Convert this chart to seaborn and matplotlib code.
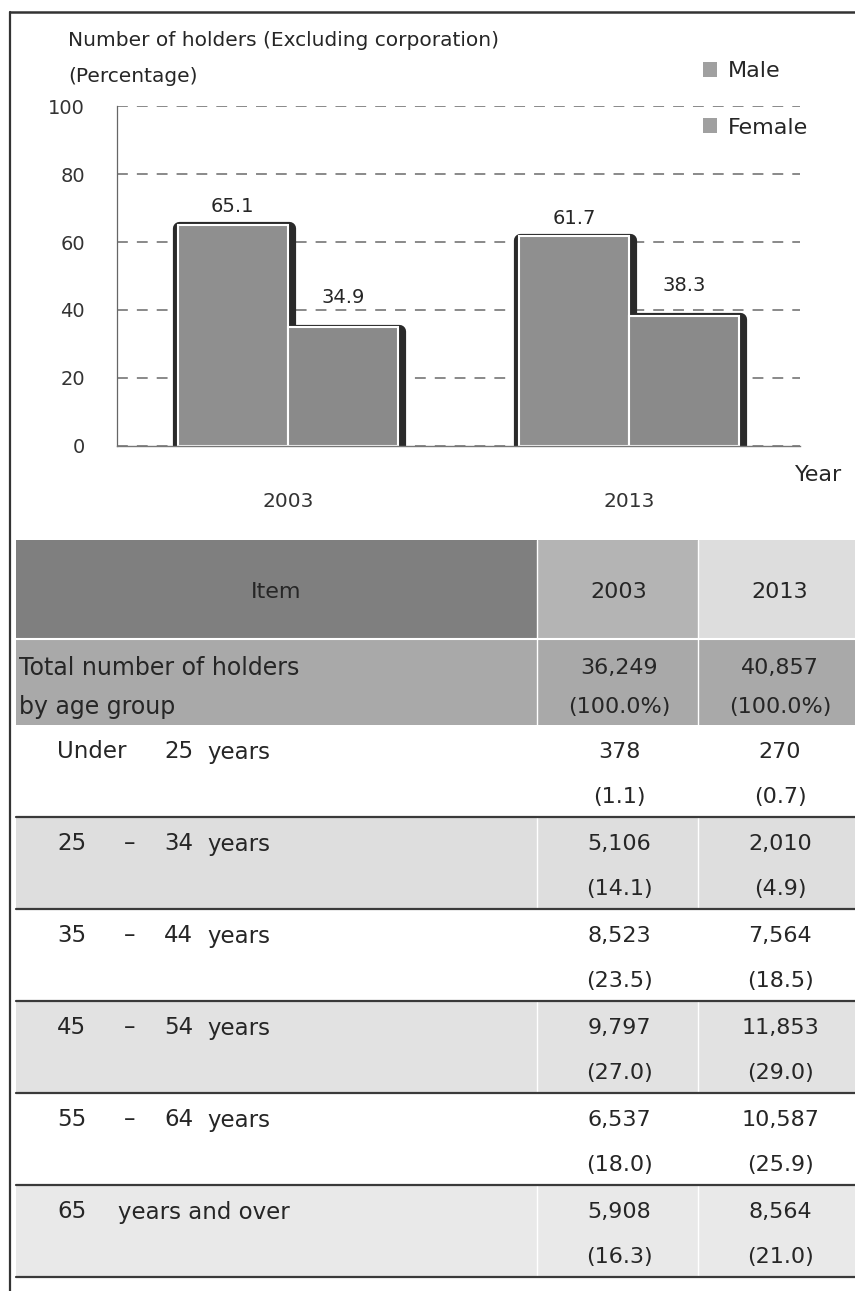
import matplotlib.pyplot as plt
import matplotlib.transforms as mtransforms
import seaborn as sns
import pandas as pd
from matplotlib.patches import Patch, Rectangle

# Chart data
years = ["2003", "2013"]
sexes = ["Male", "Female"]
male_pct = [65.1, 61.7]
female_pct = [34.9, 38.3]

# Table data
age_lo = ["Under", "25", "35", "45", "55", "65"]
age_hi = ["25", "34", "44", "54", "64", ""]
holders_2003 = [378, 5106, 8523, 9797, 6537, 5908]
pct_2003 = [1.1, 14.1, 23.5, 27.0, 18.0, 16.3]
holders_2013 = [270, 2010, 7564, 11853, 10587, 8564]
pct_2013 = [0.7, 4.9, 18.5, 29.0, 25.9, 21.0]
total_holders = [36249, 40857]
row_shade = ["#ffffff", "#dedede", "#ffffff", "#e2e2e2", "#ffffff", "#e9e9e9"]

sns.set_style("white")
plt.rcParams["font.family"] = ["DejaVu Sans"]
TXT = "#262626"

df = pd.DataFrame({
    "year": years * 2,
    "sex": ["Male"] * len(years) + ["Female"] * len(years),
    "pct": male_pct + female_pct,
})

W, H = 855, 1291
fig = plt.figure(figsize=(W / 100, H / 100), dpi=100)

# ---- background layer: frame + table (pixel coordinates) ----
tab = fig.add_axes([0, 0, 1, 1], zorder=0)
tab.set_xlim(0, W)
tab.set_ylim(H, 0)
tab.axis("off")
tab.plot([10, 10], [12, H], color="#333333", lw=1.6)
tab.plot([10, W], [12, 12], color="#333333", lw=1.8)

cols = [16, 537, 698, W]
col_mid = [276, 619, 780]

# header
header_fill = ["#7f7f7f", "#b4b4b4", "#dddddd"]
header_txt = ["Item"] + years
for i in range(3):
    tab.add_patch(Rectangle((cols[i], 540), cols[i + 1] - cols[i], 98, fc=header_fill[i], ec="none"))
    tab.text(col_mid[i], 592, header_txt[i], ha="center", va="center", fontsize=16, color=TXT)

# total row
tab.add_patch(Rectangle((cols[0], 640), cols[3] - cols[0], 85, fc="#a9a9a9", ec="none"))
tab.text(19, 668, "Total number of holders", ha="left", va="center", fontsize=17, color=TXT)
tab.text(19, 707, "by age group", ha="left", va="center", fontsize=17, color=TXT)
for j, tot in enumerate(total_holders):
    tab.text(col_mid[j + 1], 668, f"{tot:,}", ha="center", va="center", fontsize=16, color=TXT)
    tab.text(col_mid[j + 1], 707, "(100.0%)", ha="center", va="center", fontsize=16, color=TXT)

# age rows
row_h = 92
for i in range(len(age_lo)):
    top = 725 + i * row_h
    tab.add_patch(Rectangle((cols[0], top), cols[3] - cols[0], row_h, fc=row_shade[i], ec="none"))
    y1, y2 = top + 27, top + 72
    tab.text(57, y1, age_lo[i], ha="left", va="center", fontsize=16.5, color=TXT)
    if age_hi[i]:
        if age_lo[i] != "Under":
            tab.text(124, y1, "–", ha="left", va="center", fontsize=16.5, color=TXT)
        tab.text(164, y1, age_hi[i], ha="left", va="center", fontsize=16.5, color=TXT)
        tab.text(207, y1, "years", ha="left", va="center", fontsize=16.5, color=TXT)
    else:
        tab.text(118, y1, "years and over", ha="left", va="center", fontsize=16.5, color=TXT)
    tab.text(col_mid[1], y1, f"{holders_2003[i]:,}", ha="center", va="center", fontsize=16, color=TXT)
    tab.text(col_mid[1], y2, f"({pct_2003[i]:.1f})", ha="center", va="center", fontsize=16, color=TXT)
    tab.text(col_mid[2], y1, f"{holders_2013[i]:,}", ha="center", va="center", fontsize=16, color=TXT)
    tab.text(col_mid[2], y2, f"({pct_2013[i]:.1f})", ha="center", va="center", fontsize=16, color=TXT)

# white column separators, dark row rules
for x in cols[1:3]:
    tab.plot([x, x], [540, 725 + len(age_lo) * row_h], color="white", lw=1)
tab.plot([cols[0], W], [639, 639], color="white", lw=1.5)
for i in range(len(age_lo)):
    yb = 725 + (i + 1) * row_h
    tab.plot([cols[0], W], [yb, yb], color="#3a3a3a", lw=1.6)

# ---- bar chart ----
ax = fig.add_axes([117 / W, 1 - 446 / H, (800 - 117) / W, (446 - 106) / H], zorder=2)
ax.set_facecolor("none")

# dark outline / shadow layer
sns.barplot(data=df, x="year", y="pct", hue="sex", hue_order=sexes, order=years,
            palette={"Male": "#2a2a2a", "Female": "#2a2a2a"}, edgecolor="#2a2a2a",
            linewidth=9.5, width=0.645, legend=False, ax=ax)
shift = mtransforms.ScaledTranslation(1 / 100, -3.5 / 100, fig.dpi_scale_trans)
for p in list(ax.patches):
    p.set_joinstyle("round")
    p.set_transform(ax.transData + shift)

# filled bars with white inner edge
sns.barplot(data=df, x="year", y="pct", hue="sex", hue_order=sexes, order=years,
            palette={"Male": "#8f8f8f", "Female": "#8a8a8a"}, edgecolor="white",
            linewidth=1.5, width=0.645, legend=False, ax=ax)

ax.bar_label(ax.containers[2], fmt="%.1f", padding=6, fontsize=14, color=TXT)
ax.bar_label(ax.containers[3], fmt="%.1f", padding=15, fontsize=14, color=TXT)

ax.set_xlim(-0.5, 1.5)
ax.set_ylim(0, 100)
ax.set_yticks([0, 20, 40, 60, 80, 100])
ax.set_xlabel("")
ax.set_ylabel("")
ax.grid(axis="y", color="#808080", linestyle=(0, (6, 5)), linewidth=1.3)
ax.set_axisbelow(True)
for side in ["top", "right"]:
    ax.spines[side].set_visible(False)
ax.spines["left"].set_color("#666666")
ax.spines["left"].set_linewidth(0.9)
ax.spines["bottom"].set_color("#777777")
ax.spines["bottom"].set_linewidth(1.0)
ax.tick_params(axis="y", direction="inout", length=10, width=0.9, color="#666666",
               pad=18, labelsize=14, labelcolor="#333333")
ax.set_xticks([-0.5, 0.5, 1.5], minor=True)
ax.tick_params(axis="x", which="major", length=0, pad=33, labelsize=14.5, labelcolor="#333333")
ax.tick_params(axis="x", which="minor", length=10, width=0.9, color="#777777", direction="out")

# titles and legend
fig.text(68 / W, 1 - 41 / H, "Number of holders (Excluding corporation)",
         ha="left", va="center", fontsize=14.5, color=TXT)
fig.text(68 / W, 1 - 77 / H, "(Percentage)", ha="left", va="center", fontsize=14.5, color=TXT)
fig.text(795 / W, 1 - 475 / H, "Year", ha="left", va="center", fontsize=16, color=TXT)

handles = [Patch(fc="#a0a0a0", ec="none", label=s) for s in sexes]
ax.legend(handles=handles, loc="upper left", bbox_to_anchor=(703 / W, 1 - 61 / H),
          bbox_transform=fig.transFigure, frameon=False, fontsize=16,
          handlelength=0.65, handleheight=0.65, handletextpad=0.45,
          labelspacing=1.65, borderpad=0, borderaxespad=0, labelcolor=TXT)

fig.savefig("out.png", dpi=100)
